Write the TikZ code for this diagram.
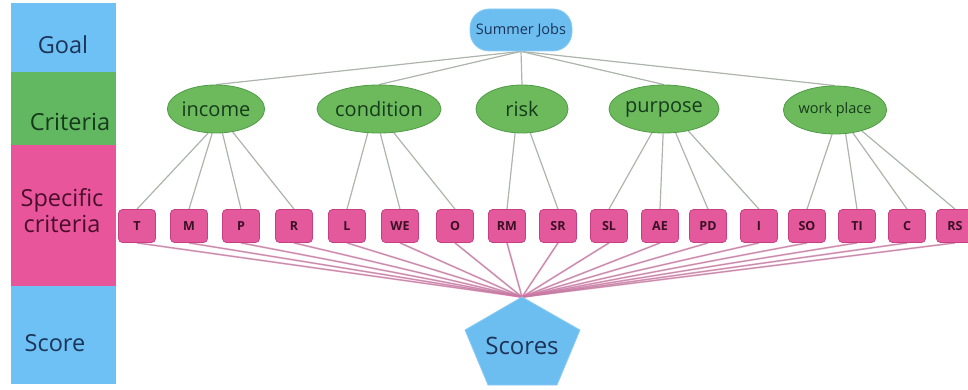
\documentclass[tikz,border=0pt]{standalone}
\usepackage{fontspec}
\setmainfont{Open Sans}
\usetikzlibrary{shapes.geometric,backgrounds}

% palette
\definecolor{bandblue}{RGB}{110,193,244}
\definecolor{bandgreen}{RGB}{98,184,96}
\definecolor{bandpink}{RGB}{232,85,154}
\definecolor{inkblue}{RGB}{28,52,88}
\definecolor{inkgreen}{RGB}{22,58,28}
\definecolor{inkpink}{RGB}{74,14,44}
\definecolor{goalfill}{RGB}{108,189,240}
\definecolor{goaledge}{RGB}{140,205,245}
\definecolor{critfill}{RGB}{108,186,92}
\definecolor{critedge}{RGB}{80,155,70}
\definecolor{subfill}{RGB}{228,88,156}
\definecolor{subedge}{RGB}{200,62,130}
\definecolor{subink}{RGB}{58,16,36}
\definecolor{linkgrey}{RGB}{172,180,172}
\definecolor{scoregrey}{RGB}{160,140,152}
\definecolor{scorepink}{RGB}{230,110,172}

\pgfdeclarelayer{links}
\pgfsetlayers{links,main}

\tikzset{
  bandtext/.style={font=\fontsize{23.5}{26}\selectfont, align=center, inner sep=0pt},
  goalnode/.style={draw=goaledge, fill=goalfill, line width=0.8pt, rounded corners=19pt,
    minimum width=102pt, minimum height=42pt, inner sep=0pt, text=inkblue,
    font=\fontsize{14.5}{16}\selectfont},
  critnode/.style={ellipse, draw=critedge, fill=critfill, line width=0.8pt,
    minimum width=92pt, minimum height=48pt, inner sep=0pt, text=inkgreen,
    font=\fontsize{20}{22}\selectfont},
  subnode/.style={draw=subedge, fill=subfill, line width=0.8pt, rounded corners=4pt,
    minimum width=37pt, minimum height=33pt, inner sep=0pt, text=subink,
    font=\fontsize{12.5}{14}\selectfont\bfseries},
  toplink/.style={draw=linkgrey, line width=1.2pt},
  sublink/.style={draw=linkgrey, line width=1.2pt},
  scorehalo/.style={draw=scorepink, line width=1.8pt, opacity=0.65},
  scoreline/.style={draw=scoregrey, line width=0.5pt},
}

\begin{document}
\begin{tikzpicture}[x=1pt,y=-1pt]
\useasboundingbox (0,0) rectangle (968,390);

% level bands on the left
\fill[bandblue]  (11,3)   rectangle (116,72);
\fill[bandgreen] (11,72)  rectangle (116,145);
\fill[bandpink]  (11,145) rectangle (116,286);
\fill[bandblue]  (11,286) rectangle (116,384);
\node[bandtext, text=inkblue]  (lgoal)  at (63,45)  {Goal};
\node[bandtext, text=inkgreen] (lcrit)  at (70,122) {Criteria};
\node[bandtext, text=inkpink]  (lspec)  at (62,211) {Specific\\criteria};
\node[bandtext, text=inkblue]  (lscore) at (55,343) {Score};

% goal
\node[goalnode] (goal) at (521,30) {Summer Jobs};

% criteria
\node[critnode] (income)    at (216,109) {income};
\node[critnode] (condition) at (379,109) {condition};
\node[critnode] (risk)      at (522,109) {risk};
\node[critnode] (purpose)   at (664,109) {purpose};
\node[critnode, font=\fontsize{14.5}{16}\selectfont] (work) at (835,110) {work place};

% specific criteria
\foreach \n/\x in {T/137, M/189, P/241, R/294, L/347, WE/400, O/455, RM/507,
                   SR/558, SL/609, AE/660, PD/708, I/759, SO/807, TI/857, C/907, RS/955}
  \node[subnode] (b\n) at (\x,226) {\n};

% score
\coordinate (apex) at (522,297);
\coordinate (sl) at (465,330);
\coordinate (sr) at (580,330);
\coordinate (sbl) at (488,385);
\coordinate (sbr) at (557,385);
\filldraw[fill=goalfill, draw=goaledge, line width=0.8pt]
  (apex) -- (sr) -- (sbr) -- (sbl) -- (sl) -- cycle;
\node[text=inkblue, font=\fontsize{24}{26}\selectfont, inner sep=0pt] (scores) at (522,346) {Scores};

\begin{pgfonlayer}{links}
  % goal to criteria
  \foreach \c in {income, condition, risk, purpose, work}
    \draw[toplink] (goal.south) -- (\c.north);
  % criteria to specific criteria
  \foreach \c/\b/\a in {income/T/-108.7, income/M/-99.5, income/P/-75.9, income/R/-54.6,
                        condition/L/-115.3, condition/WE/-87.6, condition/O/-58.5,
                        risk/RM/-106.4, risk/SR/-71.3,
                        purpose/SL/-117.4, purpose/AE/-92.4, purpose/PD/-64.7, purpose/I/-42.1,
                        work/SO/-97, work/TI/-66.9, work/C/-52.7, work/RS/-38.9}
    \draw[sublink] (\c.\a) -- (b\b.north);
  % specific criteria to score
  \foreach \b in {T, M, P, R, L, WE, O, RM, SR, SL, AE, PD, I, SO, TI, C, RS} {
    \draw[scorehalo] (b\b.south) -- (apex);
    \draw[scoreline] (b\b.south) -- (apex);
  }
\end{pgfonlayer}
\end{tikzpicture}
\end{document}
